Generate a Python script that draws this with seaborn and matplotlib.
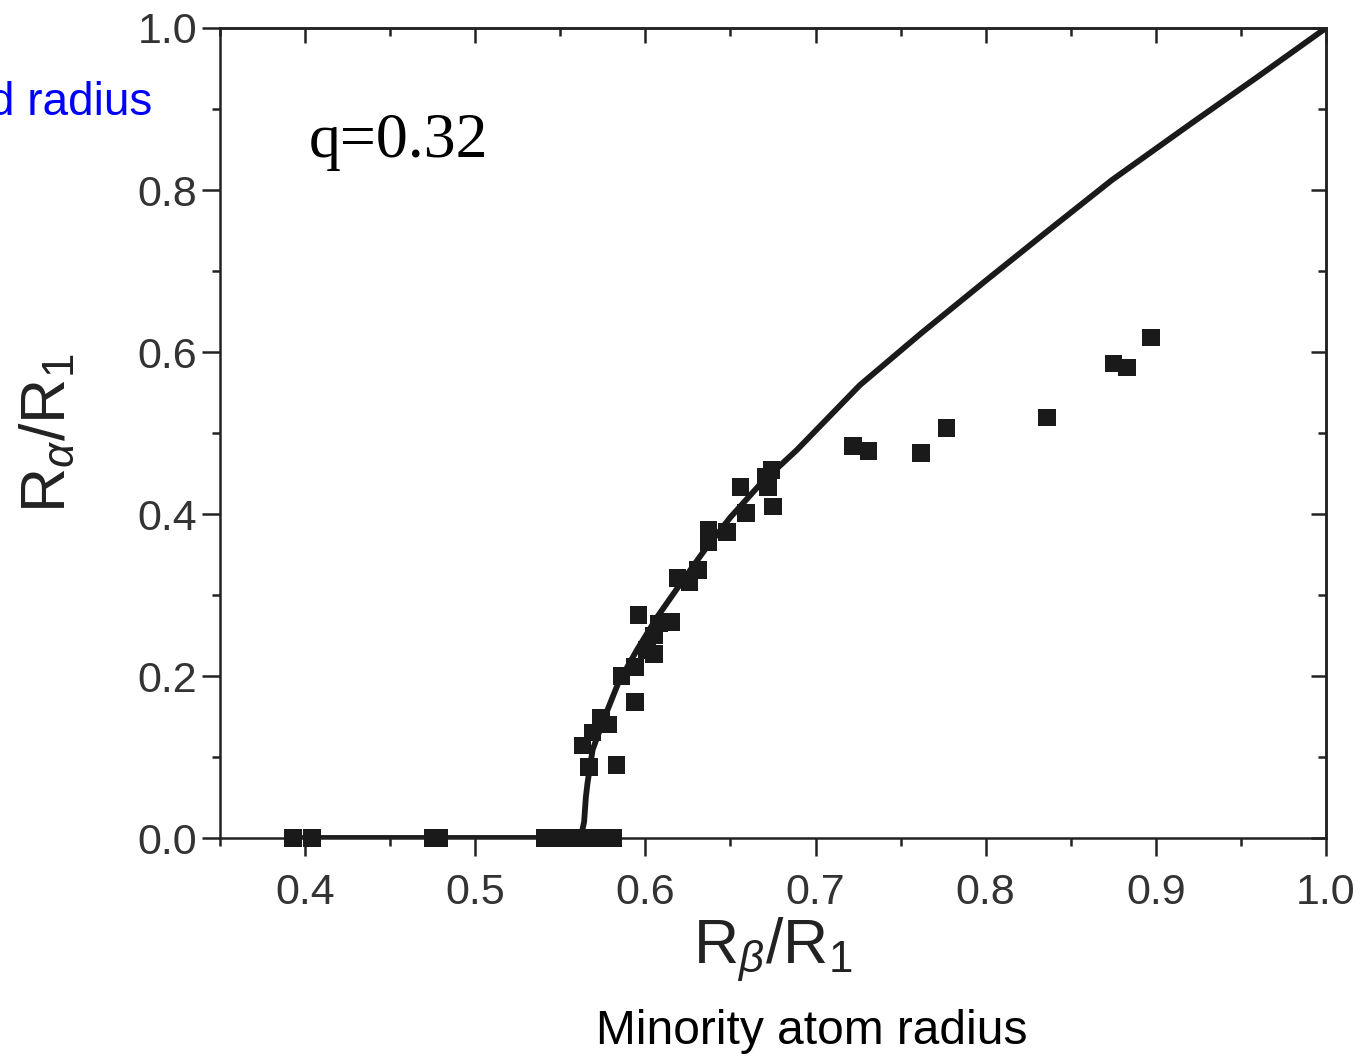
import matplotlib
matplotlib.use("Agg")
import matplotlib.pyplot as plt
import seaborn as sns
import pandas as pd
from matplotlib.ticker import MultipleLocator

# simulated minority/majority radius ratios (squares)
pts_x = [0.393, 0.404, 0.475, 0.479, 0.541, 0.549, 0.557, 0.565, 0.574, 0.581,
         0.567, 0.583, 0.563, 0.569, 0.574, 0.578, 0.586, 0.594, 0.594, 0.596,
         0.601, 0.605, 0.605, 0.608, 0.615, 0.619, 0.626, 0.631, 0.637, 0.637,
         0.648, 0.656, 0.659, 0.671, 0.674, 0.675, 0.672,
         0.722, 0.731, 0.762, 0.777, 0.836, 0.875, 0.883, 0.897]
pts_y = [0.0, 0.0, 0.0, 0.0, 0.0, 0.0, 0.0, 0.0, 0.0, 0.0,
         0.088, 0.090, 0.114, 0.130, 0.148, 0.140, 0.200, 0.168, 0.211, 0.275,
         0.232, 0.227, 0.250, 0.265, 0.267, 0.321, 0.316, 0.331, 0.380, 0.365,
         0.378, 0.433, 0.401, 0.446, 0.454, 0.409, 0.433,
         0.484, 0.478, 0.475, 0.506, 0.519, 0.586, 0.581, 0.618]

# theory curve
curve_x = [0.39, 0.50, 0.562, 0.564, 0.565, 0.566, 0.569, 0.576, 0.584, 0.595,
           0.607, 0.621, 0.635, 0.650, 0.668, 0.689, 0.726, 0.762, 0.800, 0.835,
           0.874, 0.920, 0.960, 1.0]
curve_y = [0.0, 0.0, 0.0, 0.02, 0.05, 0.068, 0.109, 0.149, 0.191, 0.232,
           0.273, 0.315, 0.356, 0.396, 0.438, 0.479, 0.559, 0.623, 0.688, 0.747,
           0.812, 0.881, 0.940, 1.0]

sns.set_theme(style="ticks")
plt.rcParams['font.family'] = ['Liberation Sans', 'DejaVu Sans']
plt.rcParams['mathtext.fontset'] = 'custom'
plt.rcParams['mathtext.rm'] = 'Liberation Sans'
plt.rcParams['mathtext.it'] = 'Liberation Sans:italic'

pts = pd.DataFrame({'x': pts_x, 'y': pts_y})
curve = pd.DataFrame({'x': curve_x, 'y': curve_y})

fig = plt.figure(figsize=(13.6, 10.56), dpi=100)
ax = fig.add_axes([220 / 1360, 1 - 838 / 1056, 1106 / 1360, 810 / 1056])

sns.lineplot(data=curve, x='x', y='y', sort=False, estimator=None,
             color='#1a1a1a', lw=4.2, ax=ax, zorder=2)
sns.scatterplot(data=pts, x='x', y='y', marker='s', s=160, color='#1a1a1a',
                edgecolor='none', linewidth=0, ax=ax, zorder=3, clip_on=False)

ax.set_xlim(0.35, 1.0)
ax.set_ylim(0.0, 1.0)
ax.xaxis.set_major_locator(MultipleLocator(0.1))
ax.xaxis.set_minor_locator(MultipleLocator(0.05))
ax.yaxis.set_major_locator(MultipleLocator(0.2))
ax.yaxis.set_minor_locator(MultipleLocator(0.1))
ax.xaxis.set_major_formatter(matplotlib.ticker.FormatStrFormatter('%.1f'))
ax.yaxis.set_major_formatter(matplotlib.ticker.FormatStrFormatter('%.1f'))

for sp in ax.spines.values():
    sp.set_linewidth(1.8)
    sp.set_color('#222222')

ax.tick_params(axis='x', which='major', pad=12)
ax.tick_params(which='major', direction='out', length=13, width=1.8,
               color='#222222', labelsize=31, labelcolor='#333333')
ax.tick_params(which='minor', direction='out', length=5.5, width=1.8,
               color='#222222')

# inward ticks on top and right
top = ax.secondary_xaxis('top')
top.xaxis.set_major_locator(MultipleLocator(0.1))
top.xaxis.set_minor_locator(MultipleLocator(0.05))
top.tick_params(which='major', direction='in', length=11, width=1.8,
                color='#222222', labeltop=False)
top.tick_params(which='minor', direction='in', length=6, width=1.8,
                color='#222222')
right = ax.secondary_yaxis('right')
right.yaxis.set_major_locator(MultipleLocator(0.2))
right.yaxis.set_minor_locator(MultipleLocator(0.1))
right.tick_params(which='major', direction='in', length=11, width=1.8,
                  color='#222222', labelright=False)
right.tick_params(which='minor', direction='in', length=6, width=1.8,
                  color='#222222')
for s in (top, right):
    for sp in s.spines.values():
        sp.set_linewidth(1.8)
        sp.set_color('#222222')

ax.set_xlabel(r'R$_{\beta}$/R$_{1}$', fontsize=45, color='#222222')
ax.set_ylabel(r'R$_{\alpha}$/R$_{1}$', fontsize=45, color='#222222')
ax.xaxis.set_label_coords(0.50, -0.095)
ax.yaxis.set_label_coords(-0.128, 0.5)

ax.text(0.08, 0.841, 'q=0.32', transform=ax.transAxes,
        family=['Liberation Serif', 'DejaVu Serif'], fontsize=46, color='black')

fig.text(812 / 1360, 1 - 1031 / 1056, 'Minority atom radius', fontsize=34.5,
         color='black', ha='center', va='center')
fig.text(152 / 1360, 1 - 103 / 1056, 'd radius', fontsize=33,
         color='#0000ff', ha='right', va='center')

fig.savefig('out.png', dpi=100)
